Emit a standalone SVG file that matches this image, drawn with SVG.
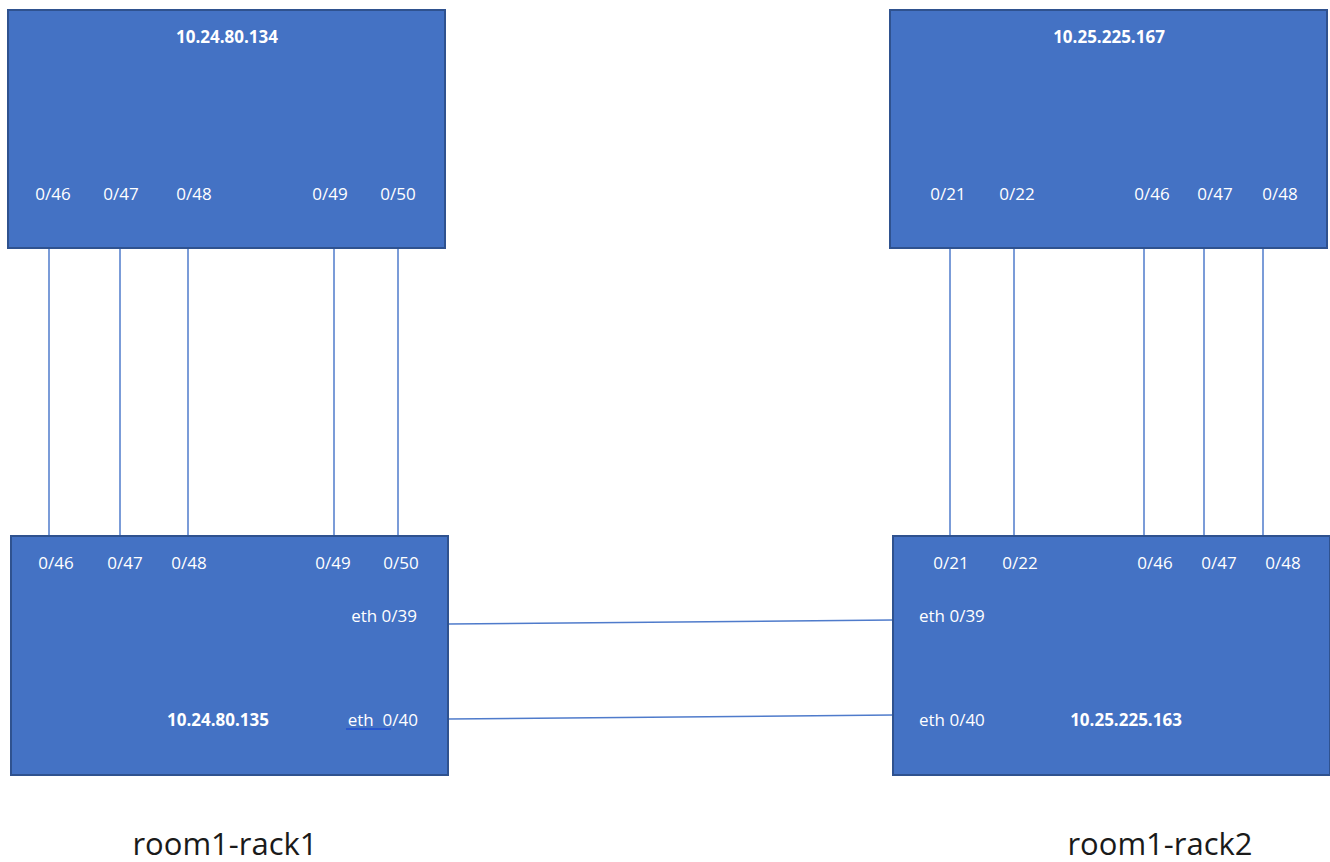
<svg xmlns="http://www.w3.org/2000/svg" width="1330" height="862" viewBox="0 0 1330 862">
<style>
.box{fill:#4472C4;stroke:#2F528F;stroke-width:2}
.port{font-family:"Open Sans","Liberation Sans",sans-serif;font-size:17px;fill:#FFFFFF}
.ip{font-family:"Open Sans","Liberation Sans",sans-serif;font-size:17px;font-weight:bold;fill:#FFFFFF}
.cap{font-family:"Open Sans","Liberation Sans",sans-serif;font-size:31px;fill:#1a1a1a}
.link{stroke:#4F7BCB;stroke-width:1.5;fill:none}
</style>
<rect width="1330" height="862" fill="#FFFFFF"/>
<g id="connectors">
<line class="link" x1="49" y1="249" x2="49" y2="535"/>
<line class="link" x1="120" y1="249" x2="120" y2="535"/>
<line class="link" x1="188" y1="249" x2="188" y2="535"/>
<line class="link" x1="334" y1="249" x2="334" y2="535"/>
<line class="link" x1="398" y1="249" x2="398" y2="535"/>
<line class="link" x1="950" y1="249" x2="950" y2="535"/>
<line class="link" x1="1014" y1="249" x2="1014" y2="535"/>
<line class="link" x1="1144" y1="249" x2="1144" y2="535"/>
<line class="link" x1="1204" y1="249" x2="1204" y2="535"/>
<line class="link" x1="1263" y1="249" x2="1263" y2="535"/>
<line class="link" x1="448" y1="624" x2="893" y2="620"/>
<line class="link" x1="448" y1="719" x2="893" y2="715"/>
</g>
<g id="sw-10-24-80-134">
<rect class="box" x="8" y="10" width="437" height="238"/>
<text class="ip" x="227" y="43" text-anchor="middle">10.24.80.134</text>
<text class="port" x="53" y="200" text-anchor="middle">0/46</text>
<text class="port" x="121" y="200" text-anchor="middle">0/47</text>
<text class="port" x="194" y="200" text-anchor="middle">0/48</text>
<text class="port" x="330" y="200" text-anchor="middle">0/49</text>
<text class="port" x="398" y="200" text-anchor="middle">0/50</text>
</g>
<g id="sw-10-25-225-167">
<rect class="box" x="890" y="10" width="437" height="238"/>
<text class="ip" x="1109" y="43" text-anchor="middle">10.25.225.167</text>
<text class="port" x="948" y="200" text-anchor="middle">0/21</text>
<text class="port" x="1017" y="200" text-anchor="middle">0/22</text>
<text class="port" x="1152" y="200" text-anchor="middle">0/46</text>
<text class="port" x="1215" y="200" text-anchor="middle">0/47</text>
<text class="port" x="1280" y="200" text-anchor="middle">0/48</text>
</g>
<g id="sw-10-24-80-135">
<rect class="box" x="11" y="536" width="437" height="239"/>
<text class="port" x="56" y="569" text-anchor="middle">0/46</text>
<text class="port" x="125" y="569" text-anchor="middle">0/47</text>
<text class="port" x="189" y="569" text-anchor="middle">0/48</text>
<text class="port" x="333" y="569" text-anchor="middle">0/49</text>
<text class="port" x="401" y="569" text-anchor="middle">0/50</text>
<text class="port" x="417" y="622" text-anchor="end">eth 0/39</text>
<text class="ip" x="218" y="726" text-anchor="middle">10.24.80.135</text>
<text class="port" x="418" y="726" text-anchor="end" xml:space="preserve">eth  0/40</text>
<line x1="346" y1="729" x2="391" y2="729" stroke="#1F4FD0" stroke-width="1.5"/>
</g>
<g id="sw-10-25-225-163">
<rect class="box" x="893" y="536" width="437" height="239"/>
<text class="port" x="951" y="569" text-anchor="middle">0/21</text>
<text class="port" x="1020" y="569" text-anchor="middle">0/22</text>
<text class="port" x="1155" y="569" text-anchor="middle">0/46</text>
<text class="port" x="1219" y="569" text-anchor="middle">0/47</text>
<text class="port" x="1283" y="569" text-anchor="middle">0/48</text>
<text class="port" x="919" y="622">eth 0/39</text>
<text class="port" x="919" y="726">eth 0/40</text>
<text class="ip" x="1126" y="726" text-anchor="middle">10.25.225.163</text>
</g>
<g id="captions">
<text class="cap" x="225" y="855" text-anchor="middle">room1-rack1</text>
<text class="cap" x="1160" y="855" text-anchor="middle">room1-rack2</text>
</g>
</svg>
